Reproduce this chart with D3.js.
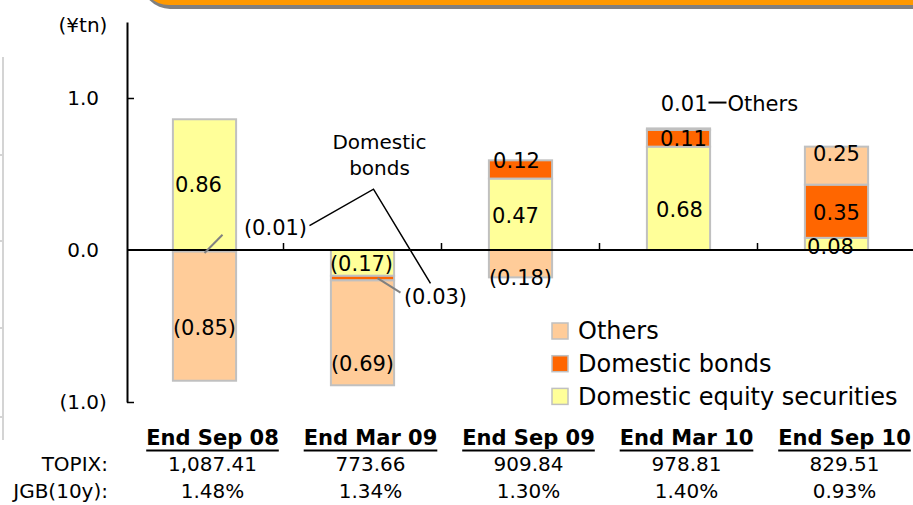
<!DOCTYPE html>
<html>
<head>
<meta charset="utf-8">
<script src="https://cdn.jsdelivr.net/npm/d3@7"></script>
<style>
  html, body { margin: 0; padding: 0; background: #fff; }
  svg { display: block; font-family: "DejaVu Sans", Verdana, sans-serif; }
</style>
</head>
<body>
<svg id="chart" width="913" height="505"></svg>
<script>
// Change in unrealized gains/losses by asset type (¥tn)
const categories = ["End Sep 08", "End Mar 09", "End Sep 09", "End Mar 10", "End Sep 10"];
const equity = [0.86, -0.17, 0.47, 0.68, 0.08];   // Domestic equity securities
const bonds  = [-0.01, -0.03, 0.12, 0.11, 0.35];  // Domestic bonds
const others = [-0.85, -0.69, -0.18, 0.01, 0.25]; // Others
const topix  = ["1,087.41", "773.66", "909.84", "978.81", "829.51"];
const jgb    = ["1.48%", "1.34%", "1.30%", "1.40%", "0.93%"];
const yTicks = [-1, 0, 1];

const seriesKeys = ["equity", "bonds", "others"];
const seriesNames = { equity: "Domestic equity securities", bonds: "Domestic bonds", others: "Others" };
const colors = { equity: "#FFFF99", bonds: "#FF6600", others: "#FFCC99" };

const rows = categories.map((c, i) => ({ cat: c, equity: equity[i], bonds: bonds[i], others: others[i] }));

const svg = d3.select("#chart");

// header banner edge
svg.append("rect").attr("x", 142).attr("y", -50).attr("width", 820).attr("height", 59)
  .attr("rx", 28).attr("fill", "#808080");
svg.append("rect").attr("x", 141).attr("y", -50).attr("width", 820).attr("height", 55)
  .attr("rx", 28).attr("fill", "#FF9900");

// side table rule
const side = svg.append("g").attr("stroke", "#d4d4d4").attr("stroke-width", 2);
side.append("line").attr("x1", 3).attr("x2", 3).attr("y1", 57).attr("y2", 440);
[155, 241, 328, 417].forEach(v => side.append("line").attr("x1", 0).attr("x2", 4).attr("y1", v).attr("y2", v));

const x = d3.scaleBand().domain(categories).range([125.5, 915.5]).paddingInner(0.6).paddingOuter(0.3);
const y = d3.scaleLinear().domain([-1, 1.5]).range([402, 22]);
const cx = i => x(categories[i]) + x.bandwidth() / 2;

const stack = d3.stack().keys(seriesKeys).offset(d3.stackOffsetDiverging);
const stacked = stack(rows);

// bars
const layers = svg.append("g").selectAll("g").data(stacked).join("g")
  .attr("fill", d => colors[d.key]);
layers.selectAll("rect").data(d => d.map(s => ({ key: d.key, s }))).join("rect")
  .attr("x", d => x(d.s.data.cat))
  .attr("width", x.bandwidth())
  .attr("y", d => y(Math.max(d.s[0], d.s[1])))
  .attr("height", d => Math.abs(y(d.s[0]) - y(d.s[1])))
  .attr("stroke", "#c0c0c0").attr("stroke-width", 2);

// zero (category) line with separators between categories
svg.append("line").attr("x1", 127).attr("x2", 913).attr("y1", y(0)).attr("y2", y(0))
  .attr("stroke", "#000").attr("stroke-width", 2);
const step = x.step();
categories.slice(1).forEach((c, i) => {
  const bx = x(c) - step * x.paddingInner() / 2;
  svg.append("line").attr("x1", bx).attr("x2", bx).attr("y1", y(0)).attr("y2", y(0) - 7)
    .attr("stroke", "#000").attr("stroke-width", 1.5);
});

// value axis
const fmtTick = v => v < 0 ? "(" + Math.abs(v).toFixed(1) + ")" : v.toFixed(1);
const yAxis = svg.append("g").attr("transform", "translate(127,0)")
  .call(d3.axisLeft(y).tickValues(yTicks).tickFormat(fmtTick).tickSizeInner(-7).tickSizeOuter(0).tickPadding(28));
yAxis.select(".domain").attr("stroke", "#000").attr("stroke-width", 2);
yAxis.selectAll(".tick line").attr("stroke", "#000").attr("stroke-width", 1.5);
yAxis.selectAll(".tick text").attr("font-size", 20).attr("fill", "#000")
  .attr("font-family", "DejaVu Sans, sans-serif")
  .filter(d => d < 0).attr("dx", "0.39em");
yAxis.select(".tick:nth-child(3) line").remove();
svg.append("text").attr("x", 83).attr("y", 25).attr("dy", "0.35em").attr("text-anchor", "middle")
  .attr("font-size", 20).text("(¥tn)");

// segment value labels
const fmtVal = v => v < 0 ? "(" + d3.format(".2f")(-v) + ")" : d3.format(".2f")(v);
const nudge = {
  "equity-0": [-6, 0], "others-0": [0, 12],
  "equity-1": [-1, 1], "others-1": [0, 31],
  "others-2": [0, 14], "equity-2": [-5, 1], "bonds-2": [-4, -9],
  "equity-3": [1, 11], "bonds-3": [5, 0],
  "equity-4": [-6, 3], "bonds-4": [0, 1], "others-4": [0, -12]
};
const labelG = svg.append("g").attr("font-size", 21).attr("text-anchor", "middle").attr("fill", "#000");
stacked.forEach(layer => {
  layer.forEach((s, i) => {
    const v = rows[i][layer.key];
    if (Math.abs(v) < 0.05) return;
    const n = nudge[layer.key + "-" + i] || [0, 0];
    labelG.append("text")
      .attr("x", cx(i) + n[0])
      .attr("y", y((s[0] + s[1]) / 2) + n[1])
      .attr("dy", "0.35em")
      .text(fmtVal(v));
  });
});

// call-outs for thin segments
const note = svg.append("g").attr("font-size", 21).attr("fill", "#000");
note.append("text").attr("x", cx(0) + 71).attr("y", y(0.15)).attr("dy", "0.35em")
  .attr("text-anchor", "middle").text(fmtVal(bonds[0]));
note.append("text").attr("x", cx(1) + 73).attr("y", y(-0.31)).attr("dy", "0.35em")
  .attr("text-anchor", "middle").text(fmtVal(bonds[1]));
note.append("text").attr("x", cx(1) + 17).attr("y", y(0.71)).attr("dy", "0.35em")
  .attr("text-anchor", "middle").attr("font-size", 20).text("Domestic");
note.append("text").attr("x", cx(1) + 17).attr("y", y(0.54)).attr("dy", "0.35em")
  .attr("text-anchor", "middle").attr("font-size", 20).text("bonds");
svg.append("polyline")
  .attr("points", [[cx(0) + 105, y(0.16)], [cx(1) + 11, y(0.4)], [cx(1) + 68, y(-0.22)]].map(p => p.join(",")).join(" "))
  .attr("fill", "none").attr("stroke", "#000").attr("stroke-width", 1.5);
svg.append("line").attr("x1", cx(0)).attr("y1", y(-0.02)).attr("x2", cx(0) + 18).attr("y2", y(0.1))
  .attr("stroke", "#808080").attr("stroke-width", 2);
svg.append("line").attr("x1", cx(1) + 15).attr("y1", y(-0.185)).attr("x2", cx(1) + 38).attr("y2", y(-0.28))
  .attr("stroke", "#808080").attr("stroke-width", 2);
note.append("text").attr("x", cx(3) + 29).attr("y", y(0.96)).attr("dy", "0.35em")
  .attr("text-anchor", "end").text(fmtVal(others[3]));
svg.append("line").attr("x1", cx(3) + 30).attr("x2", cx(3) + 48).attr("y1", y(0.97)).attr("y2", y(0.97))
  .attr("stroke", "#000").attr("stroke-width", 2);
note.append("text").attr("x", cx(3) + 49).attr("y", y(0.96)).attr("dy", "0.35em")
  .attr("text-anchor", "start").text(seriesNames.others);

// legend
const legendOrder = ["others", "bonds", "equity"];
const legend = svg.append("g").attr("transform", "translate(552,331)");
legendOrder.forEach((k, i) => {
  const g = legend.append("g").attr("transform", `translate(0,${i * 32.7})`);
  g.append("rect").attr("x", 0).attr("y", -8).attr("width", 16).attr("height", 16)
    .attr("fill", colors[k]).attr("stroke", "#c0c0c0").attr("stroke-width", 1.5);
  g.append("text").attr("x", 26).attr("y", 0).attr("dy", "0.35em").attr("font-size", 24)
    .text(seriesNames[k]);
});

// period table under the chart
const table = svg.append("g").attr("fill", "#000");
categories.forEach((c, i) => {
  const t = table.append("text").attr("x", cx(i) + 8).attr("y", 438).attr("dy", "0.35em")
    .attr("text-anchor", "middle").attr("font-size", 21).attr("font-weight", "bold").text(c);
  const w = t.node().getComputedTextLength();
  table.append("line").attr("x1", cx(i) + 8 - w / 2).attr("x2", cx(i) + 8 + w / 2)
    .attr("y1", 450.5).attr("y2", 450.5).attr("stroke", "#000").attr("stroke-width", 2);
  table.append("text").attr("x", cx(i) + 8).attr("y", 464).attr("dy", "0.35em")
    .attr("text-anchor", "middle").attr("font-size", 20).text(topix[i]);
  table.append("text").attr("x", cx(i) + 8).attr("y", 491).attr("dy", "0.35em")
    .attr("text-anchor", "middle").attr("font-size", 20).text(jgb[i]);
});
table.append("text").attr("x", 108).attr("y", 464).attr("dy", "0.35em")
  .attr("text-anchor", "end").attr("font-size", 20).text("TOPIX:");
table.append("text").attr("x", 108).attr("y", 491).attr("dy", "0.35em")
  .attr("text-anchor", "end").attr("font-size", 20).text("JGB(10y):");
</script>
</body>
</html>
